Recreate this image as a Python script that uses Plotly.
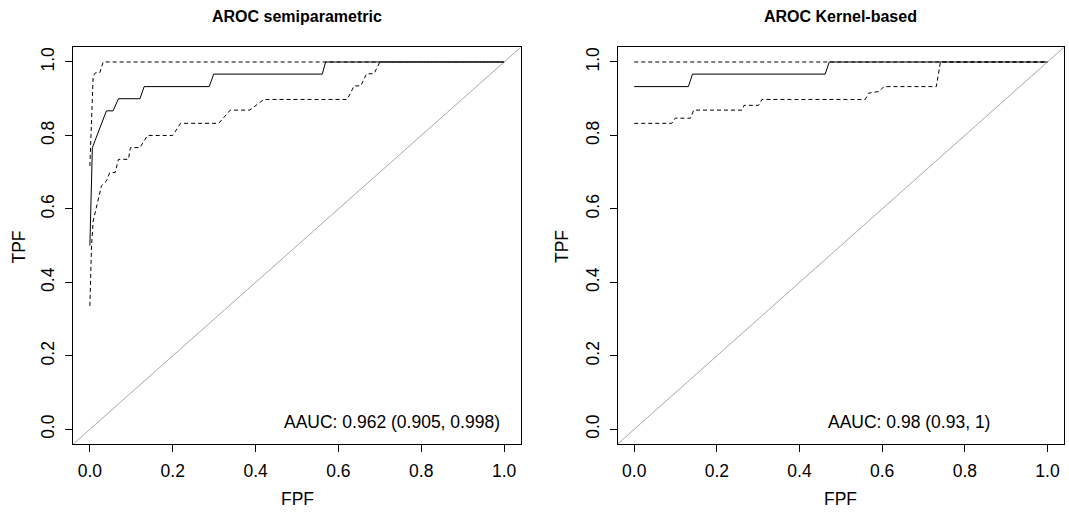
import plotly.graph_objects as go

# ---------------- data ----------------
# AROC semiparametric (left panel)
semi_fpf = [0.000, 0.002, 0.006, 0.040, 0.056, 0.069, 0.121, 0.131, 0.288, 0.299, 0.561, 0.569, 1.000]
semi_tpf = [0.500, 0.600, 0.767, 0.867, 0.867, 0.900, 0.900, 0.933, 0.933, 0.967, 0.967, 1.000, 1.000]

semi_up_fpf = [0.000, 0.006, 0.008, 0.014, 0.024, 0.032, 1.000]
semi_up_tpf = [0.717, 0.880, 0.962, 0.971, 0.971, 1.000, 1.000]

semi_lo_fpf = [0.000, 0.002, 0.004, 0.008, 0.015, 0.028, 0.040, 0.048, 0.061, 0.069, 0.093, 0.098,
               0.121, 0.139, 0.200, 0.219, 0.311, 0.323, 0.339, 0.386, 0.410, 0.420, 0.621, 0.638,
               0.654, 0.668, 0.686, 0.698, 0.700, 1.000]
semi_lo_tpf = [0.336, 0.427, 0.499, 0.567, 0.604, 0.663, 0.676, 0.699, 0.699, 0.735, 0.735, 0.767,
               0.767, 0.800, 0.800, 0.833, 0.833, 0.849, 0.869, 0.869, 0.890, 0.898, 0.898, 0.935,
               0.935, 0.968, 0.968, 0.994, 1.000, 1.000]

# AROC Kernel-based (right panel)
kern_fpf = [0.000, 0.131, 0.141, 0.462, 0.472, 1.000]
kern_tpf = [0.933, 0.933, 0.967, 0.967, 1.000, 1.000]

kern_up_fpf = [0.000, 1.000]
kern_up_tpf = [1.000, 1.000]

kern_lo_fpf = [0.000, 0.091, 0.099, 0.136, 0.144, 0.261, 0.266, 0.301, 0.309, 0.559, 0.567,
               0.593, 0.604, 0.731, 0.741, 1.000]
kern_lo_tpf = [0.833, 0.833, 0.847, 0.847, 0.869, 0.869, 0.882, 0.882, 0.898, 0.898, 0.915,
               0.920, 0.933, 0.933, 1.000, 1.000]

titles = ["AROC semiparametric", "AROC Kernel-based"]
aauc_text = ["AAUC: 0.962 (0.905, 0.998)", "AAUC: 0.98 (0.93, 1)"]
tick_vals = [0.0, 0.2, 0.4, 0.6, 0.8, 1.0]
tick_text = ["0.0", "0.2", "0.4", "0.6", "0.8", "1.0"]
axis_range = [-0.04, 1.04]

# ---------------- layout geometry ----------------
W, H = 1069, 513
FONT = "Liberation Sans, Arial, sans-serif"
x_domains = [[73.3 / W, 520.7 / W], [617.7 / W, 1064 / W]]
y_domain = [1 - 444 / H, 1 - 47.3 / H]
DASH = "4px,3px"

fig = go.Figure()

panels = [
    (semi_fpf, semi_tpf, semi_up_fpf, semi_up_tpf, semi_lo_fpf, semi_lo_tpf),
    (kern_fpf, kern_tpf, kern_up_fpf, kern_up_tpf, kern_lo_fpf, kern_lo_tpf),
]

for i, (f, t, uf, ut, lf, lt) in enumerate(panels):
    xa = "x" if i == 0 else "x2"
    ya = "y" if i == 0 else "y2"
    # diagonal reference line y = x across the whole plotting region
    fig.add_trace(go.Scatter(x=axis_range, y=axis_range, mode="lines", xaxis=xa, yaxis=ya,
                             line=dict(color="#a8a8a8", width=1), hoverinfo="skip", showlegend=False))
    fig.add_trace(go.Scatter(x=lf, y=lt, mode="lines", xaxis=xa, yaxis=ya,
                             line=dict(color="black", width=1, dash=DASH), showlegend=False))
    fig.add_trace(go.Scatter(x=uf, y=ut, mode="lines", xaxis=xa, yaxis=ya,
                             line=dict(color="black", width=1, dash=DASH), showlegend=False))
    fig.add_trace(go.Scatter(x=f, y=t, mode="lines", xaxis=xa, yaxis=ya,
                             line=dict(color="black", width=1), showlegend=False))

axis_common = dict(range=axis_range, tickvals=tick_vals, ticktext=tick_text,
                   ticks="outside", ticklen=7, tickwidth=1, tickcolor="black",
                   showline=True, mirror=True, linecolor="black", linewidth=1,
                   showgrid=False, zeroline=False,
                   tickfont=dict(family=FONT, size=17.5, color="black"))

fig.update_layout(
    width=W, height=H,
    margin=dict(l=0, r=0, t=0, b=0),
    paper_bgcolor="white", plot_bgcolor="white",
    showlegend=False,
    xaxis=dict(domain=x_domains[0], anchor="y", ticklabelstandoff=4, **axis_common),
    yaxis=dict(domain=y_domain, anchor="x", tickangle=-90, ticklabelstandoff=4, **axis_common),
    xaxis2=dict(domain=x_domains[1], anchor="y2", ticklabelstandoff=4, **axis_common),
    yaxis2=dict(domain=y_domain, anchor="x2", tickangle=-90, ticklabelstandoff=4, **axis_common),
)

annotations = []
centers_px = [(x_domains[0][0] + x_domains[0][1]) / 2, (x_domains[1][0] + x_domains[1][1]) / 2]
tpf_px = [18.5, 562]
for i in range(2):
    cx = centers_px[i]
    annotations.append(dict(text="<b>" + titles[i] + "</b>", x=cx, y=1 - 16 / H,
                            xref="paper", yref="paper", xanchor="center", yanchor="middle",
                            showarrow=False, font=dict(family=FONT, size=16, color="black")))
    annotations.append(dict(text="FPF", x=cx, y=1 - 499 / H,
                            xref="paper", yref="paper", xanchor="center", yanchor="middle",
                            showarrow=False, font=dict(family=FONT, size=17.5, color="black")))
    annotations.append(dict(text="TPF", x=tpf_px[i] / W, y=1 - 247 / H, textangle=-90,
                            xref="paper", yref="paper", xanchor="center", yanchor="middle",
                            showarrow=False, font=dict(family=FONT, size=17.5, color="black")))
    annotations.append(dict(text=aauc_text[i], x=0.463, y=0.021,
                            xref="x" if i == 0 else "x2", yref="y" if i == 0 else "y2",
                            xanchor="left", yanchor="middle",
                            showarrow=False, font=dict(family=FONT, size=17.5, color="black")))
fig.update_layout(annotations=annotations)

fig.write_html("out.html")
